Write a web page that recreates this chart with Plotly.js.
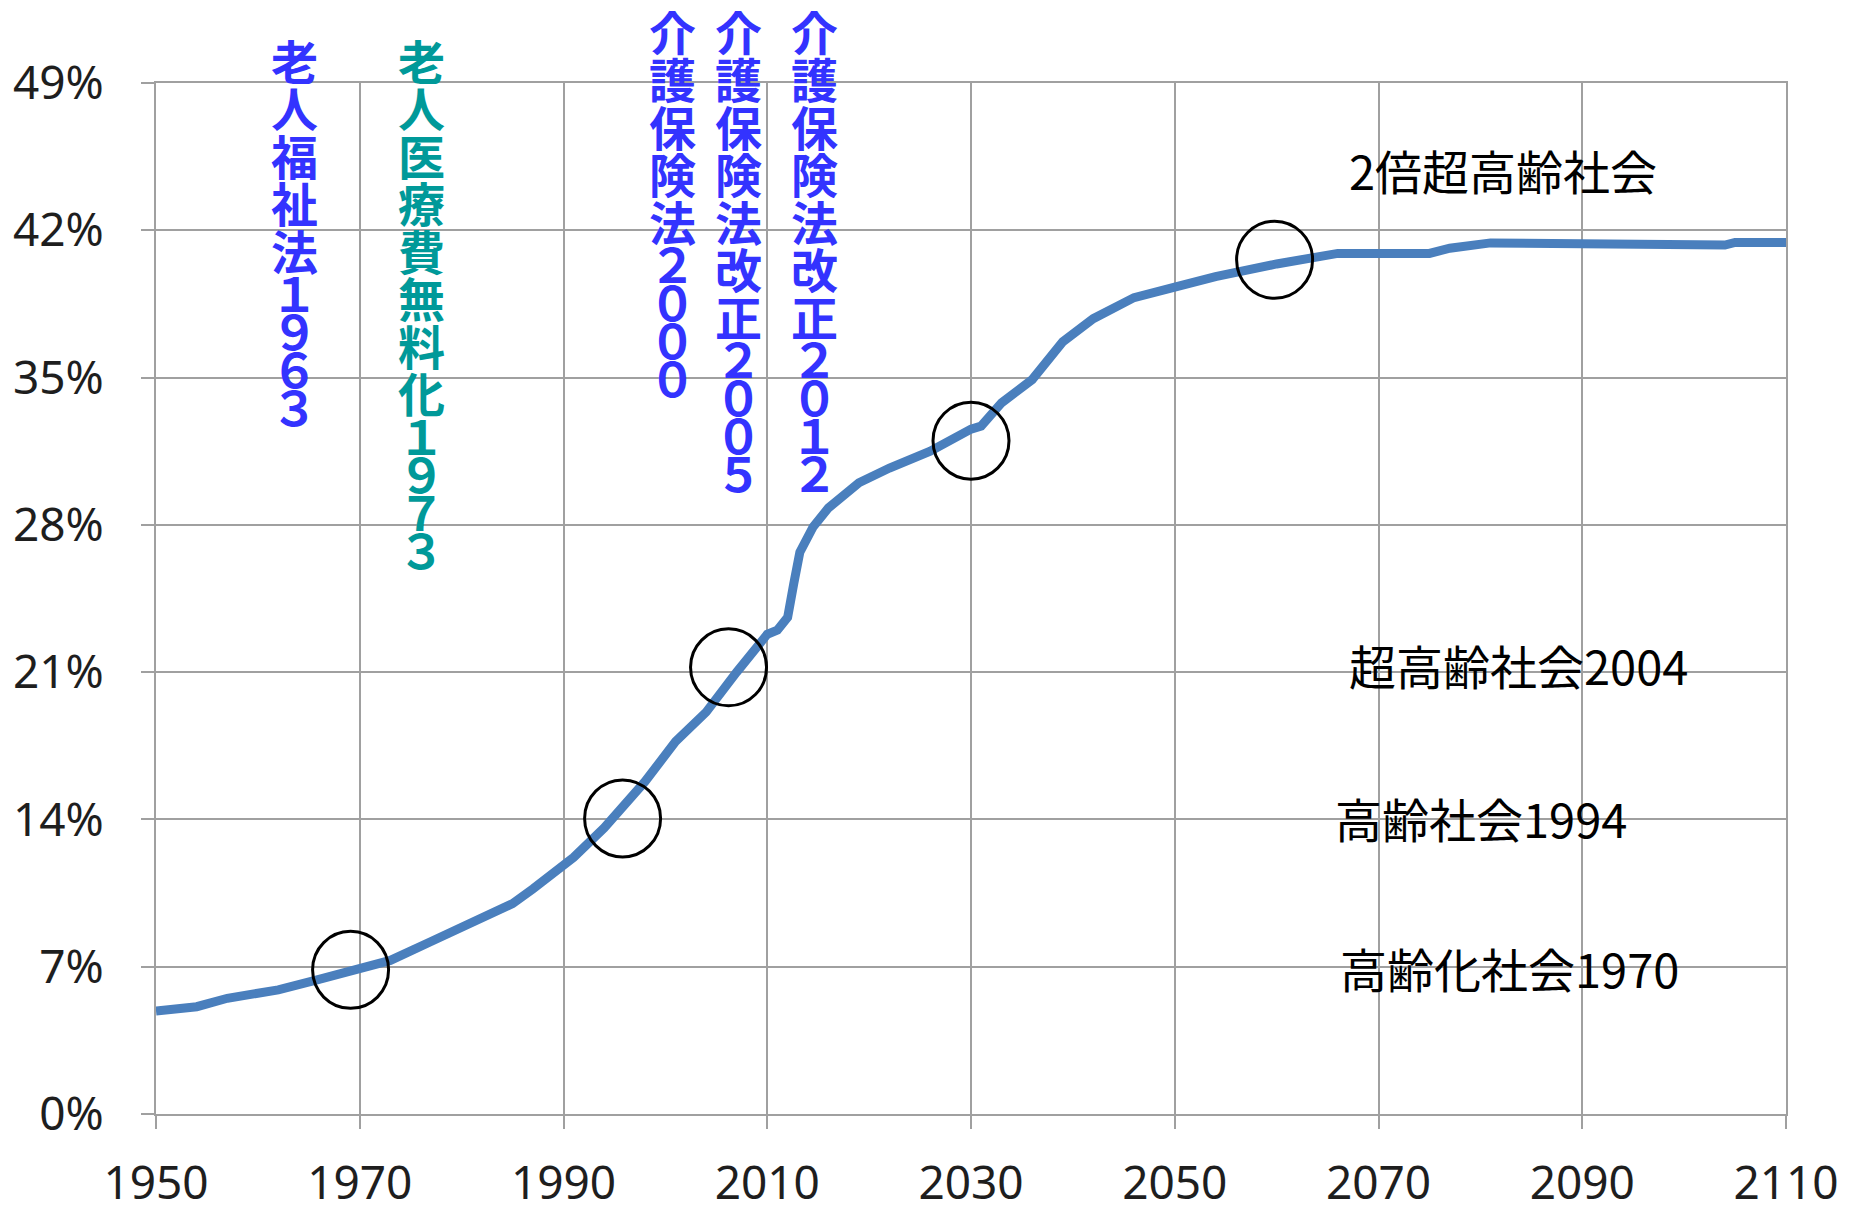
<!DOCTYPE html>
<html>
<head>
<meta charset="utf-8">
<script src="https://cdn.plot.ly/plotly-3.0.1.min.js"></script>
<style>
  html, body { margin: 0; padding: 0; background: #ffffff; }
  #chart { width: 1863px; height: 1211px; }
</style>
</head>
<body>
<div id="chart"></div>
<script>
// ---- data ----
const years = [1950, 1954, 1957, 1962, 1966, 1970, 1973, 1977, 1980, 1985, 1987, 1988, 1990, 1991, 1994, 1998, 2001, 2004, 2007, 2010, 2011, 2012, 2012.6, 2013.2, 2014.5, 2016, 2019, 2022, 2026, 2029, 2030, 2031, 2033, 2036, 2039, 2042, 2046, 2050, 2054, 2060, 2062, 2066, 2075, 2077, 2081, 2089, 2090, 2104, 2105, 2110];
const agingRate = [4.9, 5.1, 5.5, 5.9, 6.4, 6.95, 7.3, 8.2, 8.9, 10.0, 10.7, 11.1, 11.9, 12.2, 13.6, 15.8, 17.7, 19.1, 21.0, 22.8, 23.0, 23.6, 25.2, 26.7, 27.9, 28.8, 30.0, 30.7, 31.5, 32.35, 32.55, 32.7, 33.8, 34.9, 36.7, 37.8, 38.8, 39.3, 39.8, 40.4, 40.6, 40.9, 40.9, 41.15, 41.4, 41.4, 41.3, 41.3, 41.42, 41.42];

const xTickVals = [1950, 1970, 1990, 2010, 2030, 2050, 2070, 2090, 2110];
const yTickVals = [0, 7, 14, 21, 28, 35, 42, 49];
const yTickText = yTickVals.map(v => v + '%');

// milestone circles (year, rate)
const circleYears = [1969.1, 1995.8, 2006.2, 2030.0, 2059.8];
const circleRates = [6.85, 14.05, 21.23, 32.0, 40.6];

// vertical law labels
const lawLabels = ['老人福祉法１９６３', '老人医療費無料化１９７３', '介護保険法２０００', '介護保険法改正２００５', '介護保険法改正２０１２'];
const lawColors = ['#3333ff', '#009999', '#3333ff', '#3333ff', '#3333ff'];

// stage labels on the right
const stageLabels = ['2倍超高齢社会', '超高齢社会2004', '高齢社会1994', '高齢化社会1970'];

// ---- layout geometry ----
const W = 1863, H = 1211;
const M = { l: 156, r: 77, t: 83, b: 97 };
const plotH = H - M.t - M.b;
const pyToPaper = py => 1 - (py - M.t) / plotH;

const lawX = [1963.64, 1976.02, 2000.69, 2007.14, 2014.61];
const lawTop = [59, 59, 30, 30, 30];
const kanjiStep = 47.5, digitStep = 38;

const stageX = [2066.95, 2066.95, 2065.5, 2066.0];
const stageY = [44.89, 21.37, 14.1, 6.97];

const annotations = [];
lawLabels.forEach((lab, i) => {
  const chars = Array.from(lab);
  let y = lawTop[i];
  let prevStep = null;
  chars.forEach(ch => {
    const isDigit = /[０-９0-9]/.test(ch);
    const step = isDigit ? digitStep : kanjiStep;
    if (prevStep !== null) y += (prevStep + step) / 2;
    prevStep = step;
    annotations.push({
      text: ch, xref: 'x', yref: 'paper', x: lawX[i], y: pyToPaper(y),
      xanchor: 'center', yanchor: 'middle', showarrow: false,
      font: { family: '"Noto Sans CJK JP", sans-serif', size: 47, color: lawColors[i], weight: 700 }
    });
  });
});
stageLabels.forEach((lab, i) => {
  annotations.push({
    text: lab, xref: 'x', yref: 'y', x: stageX[i], y: stageY[i],
    xanchor: 'left', yanchor: 'middle', showarrow: false,
    font: { family: '"Noto Sans CJK JP", sans-serif', size: 47, color: '#000000' }
  });
});

const shapes = circleYears.map((cx, i) => ({
  type: 'circle', xref: 'x', yref: 'y',
  xsizemode: 'pixel', ysizemode: 'pixel',
  xanchor: cx, yanchor: circleRates[i],
  x0: -38, x1: 38, y0: -38.5, y1: 38.5,
  line: { color: '#000000', width: 3 }, fillcolor: 'rgba(0,0,0,0)'
}));

const trace = {
  x: years, y: agingRate, type: 'scatter', mode: 'lines',
  line: { color: '#4a7fbd', width: 9 },
  hoverinfo: 'skip'
};

const gridColor = '#a0a0a0';
const layout = {
  width: W, height: H,
  margin: M,
  paper_bgcolor: '#ffffff', plot_bgcolor: '#ffffff',
  showlegend: false,
  xaxis: {
    range: [1950, 2110], tickvals: xTickVals, ticktext: xTickVals.map(String),
    showgrid: true, gridcolor: gridColor, gridwidth: 2,
    showline: true, linecolor: gridColor, linewidth: 2, mirror: true,
    zeroline: false,
    ticks: 'outside', ticklen: 13, tickwidth: 2, tickcolor: gridColor,
    ticklabelstandoff: 15,
    tickfont: { family: '"Noto Sans", sans-serif', size: 46, color: '#1e1e1e' }
  },
  yaxis: {
    range: [0, 49], tickvals: yTickVals, ticktext: yTickText,
    showgrid: true, gridcolor: gridColor, gridwidth: 2,
    showline: true, linecolor: gridColor, linewidth: 2, mirror: true,
    zeroline: false,
    ticks: 'outside', ticklen: 13, tickwidth: 2, tickcolor: gridColor,
    ticklabelstandoff: 28,
    tickfont: { family: '"Noto Sans", sans-serif', size: 46, color: '#1e1e1e' }
  },
  annotations: annotations,
  shapes: shapes
};

Plotly.newPlot('chart', [trace], layout, { staticPlot: true, displayModeBar: false });
</script>
</body>
</html>
